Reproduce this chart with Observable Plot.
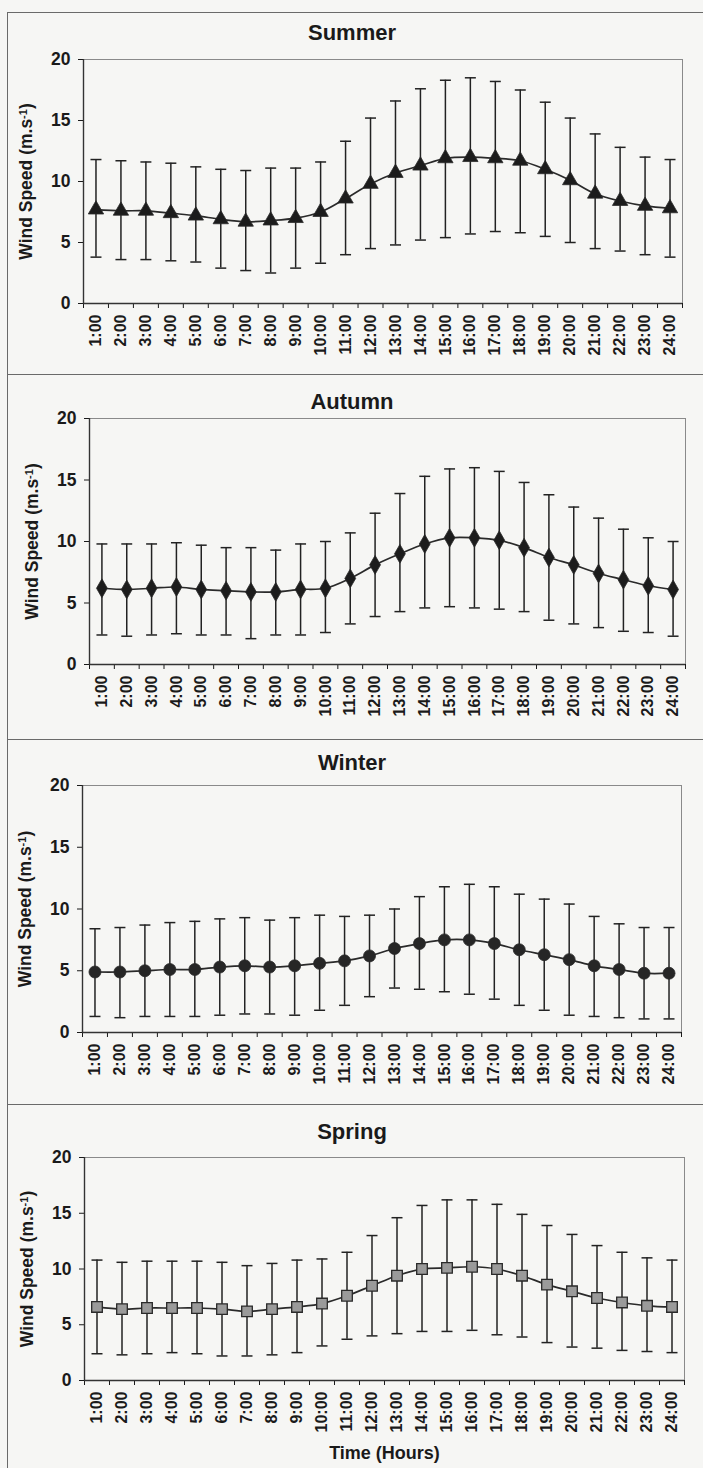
<!DOCTYPE html>
<html>
<head>
<meta charset="utf-8">
<script src="https://cdn.jsdelivr.net/npm/d3@7"></script>
<script src="https://cdn.jsdelivr.net/npm/@observablehq/plot@0.6"></script>
<style>
  html, body { margin: 0; padding: 0; background: #f6f6f4; }
  #wrap { position: relative; width: 703px; height: 1468px; overflow: hidden;
          font-family: "Liberation Sans", Arial, sans-serif; color: #1a1a1a; }
  .panel { position: absolute; left: 7px; width: 720px; border-top: 1.5px solid #6a6a6a;
           border-left: 1.5px solid #6a6a6a; box-sizing: border-box; }
  .title { position: absolute; left: 0; width: 720px; text-align: center; font-weight: bold;
           font-size: 22px; line-height: 24px; }
  .chart { position: absolute; left: 0; }
</style>
</head>
<body>
<div id="wrap"></div>
<script>
// ---- data ----
const hours = [1,2,3,4,5,6,7,8,9,10,11,12,13,14,15,16,17,18,19,20,21,22,23,24];
const hourLabels = ["1:00","2:00","3:00","4:00","5:00","6:00","7:00","8:00","9:00","10:00","11:00","12:00",
                    "13:00","14:00","15:00","16:00","17:00","18:00","19:00","20:00","21:00","22:00","23:00","24:00"];
const yTicks = [0, 5, 10, 15, 20];
const seasons = ["Summer", "Autumn", "Winter", "Spring"];

const summerMean = [7.7,7.6,7.6,7.4,7.2,6.9,6.7,6.8,7.0,7.5,8.6,9.8,10.7,11.3,11.9,12.0,11.9,11.7,11.0,10.1,9.0,8.4,8.0,7.8];
const summerLow  = [3.8,3.6,3.6,3.5,3.4,2.9,2.7,2.5,2.9,3.3,4.0,4.5,4.8,5.2,5.4,5.7,5.9,5.8,5.5,5.0,4.5,4.3,4.0,3.8];
const summerHigh = [11.8,11.7,11.6,11.5,11.2,11.0,10.9,11.1,11.1,11.6,13.3,15.2,16.6,17.6,18.3,18.5,18.2,17.5,16.5,15.2,13.9,12.8,12.0,11.8];

const autumnMean = [6.2,6.1,6.2,6.3,6.1,6.0,5.9,5.9,6.1,6.2,7.0,8.1,9.0,9.8,10.3,10.3,10.1,9.5,8.7,8.1,7.4,6.9,6.4,6.1];
const autumnLow  = [2.4,2.3,2.4,2.5,2.4,2.4,2.1,2.4,2.4,2.6,3.3,3.9,4.3,4.6,4.7,4.6,4.5,4.3,3.6,3.3,3.0,2.7,2.6,2.3];
const autumnHigh = [9.8,9.8,9.8,9.9,9.7,9.5,9.5,9.3,9.8,10.0,10.7,12.3,13.9,15.3,15.9,16.0,15.7,14.8,13.8,12.8,11.9,11.0,10.3,10.0];

const winterMean = [4.9,4.9,5.0,5.1,5.1,5.3,5.4,5.3,5.4,5.6,5.8,6.2,6.8,7.2,7.5,7.5,7.2,6.7,6.3,5.9,5.4,5.1,4.8,4.8];
const winterLow  = [1.3,1.2,1.3,1.3,1.3,1.4,1.5,1.5,1.4,1.8,2.2,2.9,3.6,3.5,3.3,3.1,2.7,2.2,1.8,1.4,1.3,1.2,1.1,1.1];
const winterHigh = [8.4,8.5,8.7,8.9,9.0,9.2,9.3,9.1,9.3,9.5,9.4,9.5,10.0,11.0,11.8,12.0,11.8,11.2,10.8,10.4,9.4,8.8,8.5,8.5];

const springMean = [6.6,6.4,6.5,6.5,6.5,6.4,6.2,6.4,6.6,6.9,7.6,8.5,9.4,10.0,10.1,10.2,10.0,9.4,8.6,8.0,7.4,7.0,6.7,6.6];
const springLow  = [2.4,2.3,2.4,2.5,2.4,2.2,2.2,2.3,2.5,3.1,3.7,4.0,4.2,4.4,4.4,4.5,4.1,3.9,3.4,3.0,2.9,2.7,2.6,2.5];
const springHigh = [10.8,10.6,10.7,10.7,10.7,10.6,10.3,10.5,10.8,10.9,11.5,13.0,14.6,15.7,16.2,16.2,15.8,14.9,13.9,13.1,12.1,11.5,11.0,10.8];

const seasonMean = [summerMean, autumnMean, winterMean, springMean];
const seasonLow  = [summerLow, autumnLow, winterLow, springLow];
const seasonHigh = [summerHigh, autumnHigh, winterHigh, springHigh];
const seasonSymbol = ["triangle", "diamond", "circle", "square"];
const seasonFill = ["#1c1c1c", "#1c1c1c", "#262626", "#9a9a9a"];

// ---- layout (page pixels) ----
const layout = [
  {panelTop: 12,   titleY: 33,   plotTop: 59,   plotBottom: 303,  left: 83, right: 682},
  {panelTop: 374,  titleY: 402,  plotTop: 418,  plotBottom: 664,  left: 89, right: 685},
  {panelTop: 739,  titleY: 763,  plotTop: 785,  plotBottom: 1032, left: 82, right: 681},
  {panelTop: 1104, titleY: 1132, plotTop: 1157, plotBottom: 1380, left: 84, right: 684}
];

const wrap = document.getElementById("wrap");
const SVGNS = "http://www.w3.org/2000/svg";

seasons.forEach((name, s) => {
  const L = layout[s];
  const next = s < 3 ? layout[s + 1].panelTop : 1480;
  const panel = document.createElement("div");
  panel.className = "panel";
  panel.style.top = L.panelTop + "px";
  panel.style.height = (next - L.panelTop) + "px";
  wrap.appendChild(panel);

  const title = document.createElement("div");
  title.className = "title";
  title.textContent = name;
  title.style.top = (L.titleY - 12) + "px";
  title.style.left = "-8px";
  wrap.appendChild(title);

  const rows = hours.map((h, i) => ({
    h, mean: seasonMean[s][i], low: seasonLow[s][i], high: seasonHigh[s][i]
  }));

  const mt = 10;
  const isLast = s === 3;
  const mb = isLast ? 92 : 62;
  const plotH = L.plotBottom - L.plotTop;
  const W = 703;

  const chart = Plot.plot({
    width: W,
    height: mt + plotH + mb,
    marginTop: mt,
    marginBottom: mb,
    marginLeft: L.left,
    marginRight: W - L.right,
    style: "background: transparent; font-family: 'Liberation Sans', Arial, sans-serif; font-weight: bold; font-size: 16px; color: #1a1a1a;",
    x: {type: "linear", domain: [0.5, 24.5]},
    y: {domain: [0, 20]},
    marks: [
      Plot.frame({stroke: "#8a8a8a", strokeWidth: 1}),
      Plot.axisY({
        ticks: yTicks, tickSize: 5, tickPadding: 8, tickFormat: d => String(d),
        label: "Wind Speed (m.s-1)", labelAnchor: "center", labelArrow: "none", labelOffset: 64,
        fontSize: 17.5
      }),
      Plot.axisX({ticks: d3.range(0.5, 25, 1), tickSize: 5, tickFormat: () => "", label: null}),
      Plot.axisX({
        ticks: hours, tickSize: 0, tickPadding: 11, tickRotate: -90,
        tickFormat: d => hourLabels[hours.indexOf(d)],
        label: isLast ? "Time (Hours)" : null, labelAnchor: "center", labelArrow: "none",
        labelOffset: 78, fontSize: 16
      }),
      Plot.ruleX([0.5], {stroke: "#333", strokeWidth: 1.4}),
      Plot.ruleY([0], {stroke: "#333", strokeWidth: 1.4}),
      Plot.ruleX(rows, {x: "h", y1: "low", y2: "high", stroke: "#222", strokeWidth: 1.5}),
      Plot.link(rows, {x1: d => d.h - 0.22, x2: d => d.h + 0.22, y1: "low", y2: "low", stroke: "#222", strokeWidth: 1.5}),
      Plot.link(rows, {x1: d => d.h - 0.22, x2: d => d.h + 0.22, y1: "high", y2: "high", stroke: "#222", strokeWidth: 1.5}),
      Plot.line(rows, {x: "h", y: "mean", curve: "catmull-rom", stroke: "#2a2a2a", strokeWidth: 1.7}),
      Plot.dot(rows, {x: "h", y: "mean", symbol: () => seasonSymbol[s], r: s === 3 ? 6 : (s === 2 ? 6 : 5.7),
                      fill: seasonFill[s], stroke: "#2a2a2a", strokeWidth: s === 3 ? 1.3 : 0.8})
    ]
  });

  // enlarge axis titles and render the superscript of the unit
  chart.querySelectorAll('g[aria-label="y-axis label"] text').forEach(t => {
    t.style.fontSize = "17.5px";
    t.textContent = "";
    t.appendChild(document.createTextNode("Wind Speed (m.s"));
    const sup = document.createElementNS(SVGNS, "tspan");
    sup.setAttribute("dy", "-0.45em");
    sup.setAttribute("font-size", "11px");
    sup.textContent = "-1";
    t.appendChild(sup);
    const close = document.createElementNS(SVGNS, "tspan");
    close.setAttribute("dy", "0.3em");
    close.textContent = ")";
    t.appendChild(close);
  });
  chart.querySelectorAll('g[aria-label="x-axis label"] text').forEach(t => {
    t.style.fontSize = "18px";
  });

  chart.classList.add("chart");
  chart.style.top = (L.plotTop - mt) + "px";
  wrap.appendChild(chart);
});
</script>
</body>
</html>
